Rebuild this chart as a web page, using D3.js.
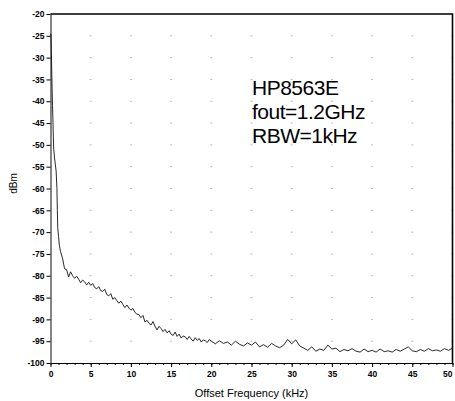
<!DOCTYPE html>
<html>
<head>
<meta charset="utf-8">
<script src="https://cdn.jsdelivr.net/npm/d3@7"></script>
<style>
	body { margin: 0; background: #fff; }
	svg { display: block; font-family: "Liberation Sans", Arial, sans-serif; }
</style>
</head>
<body>
<div id="chart"></div>
<script>
var WIDTH = 455, HEIGHT = 401;
var margin = {top: 14, right: 2.5, bottom: 38, left: 50.5};

// trace: offset frequency (kHz) and level (dBm)
var freq_start = [0.05, 0.1, 0.15, 0.2, 0.25, 0.3, 0.35, 0.4, 0.5, 0.7, 0.8, 0.85, 0.9, 1.0, 1.1, 1.25];
var level_start = [-24.5, -28, -33, -37, -41, -44, -48, -51, -53, -56, -60, -65, -69, -71, -73, -74.5];

// 1.5 .. 20 kHz, every 0.25 kHz
var freq_mid = [1.5, 1.75, 2, 2.25, 2.5, 2.75, 3, 3.25, 3.5, 3.75, 4, 4.25, 4.5, 4.75, 5, 5.25, 5.5, 5.75,
	6, 6.25, 6.5, 6.75, 7, 7.25, 7.5, 7.75, 8, 8.25, 8.5, 8.75, 9, 9.25, 9.5, 9.75, 10, 10.25, 10.5, 10.75,
	11, 11.25, 11.5, 11.75, 12, 12.25, 12.5, 12.75, 13, 13.25, 13.5, 13.75, 14, 14.25, 14.5, 14.75, 15,
	15.25, 15.5, 15.75, 16, 16.25, 16.5, 16.75, 17, 17.25, 17.5, 17.75, 18, 18.25, 18.5, 18.75, 19, 19.25,
	19.5, 19.75, 20];
var level_mid = [-76, -78.4, -78.6, -80.3, -79.1, -80, -80.6, -80.1, -80.8, -81.6,
	-81, -81.4, -82.1, -81.5, -82.2, -81.8, -82.7, -83, -82.5, -83.4,
	-83.6, -83.1, -84.3, -84.6, -84.1, -85.4, -85, -85.7, -86.3, -85.8,
	-86.6, -87.3, -86.7, -87.4, -87.9, -87.5, -88.4, -88.8,
	-88.9, -89.6, -89.1, -90.6, -90.2, -90.9, -91.3, -90.5, -91.6, -92.4,
	-91.6, -92.1, -92.8, -92.3, -93.1, -92.6, -93.4, -93.7, -92.9, -93.9,
	-93.4, -94.3, -93.8, -94, -94.6, -93.9, -94.5, -95, -94.2, -94.8,
	-94.4, -95.2, -94.7, -94.9, -95.3, -94.6, -95];

// 20.5 .. 50 kHz, every 0.5 kHz
var freq_end = [20.5, 21, 21.5, 22, 22.5, 23, 23.5, 24, 24.5, 25, 25.5, 26, 26.5, 27, 27.5, 28, 28.5, 29,
	29.5, 30, 30.5, 31, 31.5, 32, 32.5, 33, 33.5, 34, 34.5, 35, 35.5, 36, 36.5, 37, 37.5, 38, 38.5, 39,
	39.5, 40, 40.5, 41, 41.5, 42, 42.5, 43, 43.5, 44, 44.5, 45, 45.5, 46, 46.5, 47, 47.5, 48, 48.5, 49,
	49.5, 50];
var level_end = [-95.6, -94.9, -95.5, -95.2, -95.9, -95, -95.7, -96.1, -95.4, -95.9, -95.2, -96.3, -95.8,
	-96.4, -95.5, -96.1, -96.5, -95.9, -94.6, -95.6, -94.7, -96.1, -96.6, -97.1, -96.3, -97.3, -96.8,
	-97.1, -95.9, -96.8, -96.6, -97.4, -96.9, -97.2, -96.7, -97.3, -97.5, -96.8, -97.4, -97.1, -97.5,
	-96.8, -97.4, -97.2, -97.5, -96.9, -97.3, -96.8, -96.3, -97.2, -97.4, -96.9, -97.3, -96.7, -97.2,
	-97, -97.3, -96.7, -97.1, -96.6];

var x_ticks = [0, 5, 10, 15, 20, 25, 30, 35, 40, 45, 50];
var y_ticks = [-20, -25, -30, -35, -40, -45, -50, -55, -60, -65, -70, -75, -80, -85, -90, -95, -100];
var note_lines = ["HP8563E", "fout=1.2GHz", "RBW=1kHz"];

var freqs = freq_start.concat(freq_mid, freq_end);
var levels = level_start.concat(level_mid, level_end);
var trace = freqs.map(function(f, i) { return {f: f, l: levels[i]}; });

var svg = d3.select("#chart").append("svg")
	.attr("width", WIDTH)
	.attr("height", HEIGHT);

var x = d3.scaleLinear().domain([0, 50]).range([margin.left, WIDTH - margin.right]);
var y = d3.scaleLinear().domain([-100, -20]).range([HEIGHT - margin.bottom, margin.top]);

// sparse dotted grid (mostly lost in the scan)
svg.append("g")
	.selectAll("line")
	.data(y_ticks.slice(1, -1))
	.enter().append("line")
	.attr("x1", x(0)).attr("x2", x(50))
	.attr("y1", function(d) { return y(d); })
	.attr("y2", function(d) { return y(d); })
	.style("stroke", "#b8b8b8")
	.style("stroke-width", 1)
	.style("stroke-dasharray", "2," + (x(5) - x(0) - 2))
	.style("stroke-dashoffset", 1);

// x axis, minor ticks every 1 kHz
svg.append("g")
	.attr("transform", "translate(0," + y(-100) + ")")
	.call(d3.axisBottom(x).tickValues(d3.range(0, 51, 1)).tickSize(2).tickFormat(""))
	.call(function(g) { g.select(".domain").remove(); });

var xAxis = svg.append("g")
	.attr("transform", "translate(0," + y(-100) + ")")
	.call(d3.axisBottom(x).tickValues(x_ticks).tickSize(4).tickSizeOuter(0).tickPadding(4));

// last label sits on the window edge: pull it inside
xAxis.selectAll(".tick text")
	.filter(function(d) { return d === 50; })
	.attr("text-anchor", "end")
	.attr("dx", "-0.5");

var yAxis = svg.append("g")
	.attr("transform", "translate(" + x(0) + ",0)")
	.call(d3.axisLeft(y).tickValues(y_ticks).tickSize(4).tickSizeOuter(0).tickPadding(2)
		.tickFormat(function(d) { return d; }));

svg.selectAll(".tick text")
	.style("font-size", "8.5px")
	.style("font-weight", "bold")
	.style("font-family", "'Liberation Sans', Arial, sans-serif")
	.style("fill", "#000");
svg.selectAll(".domain, .tick line").style("stroke", "#000");
yAxis.select(".domain").style("stroke", "#444").style("stroke-width", 1.3);
xAxis.select(".domain").style("stroke-width", 1.2);

// top and right frame
svg.append("path")
	.attr("d", "M" + x(0) + "," + y(-20) + "H" + x(50) + "V" + y(-100))
	.style("fill", "none")
	.style("stroke", "#000")
	.style("stroke-width", 1.6);

// trace
var line = d3.line()
	.x(function(d) { return x(d.f); })
	.y(function(d) { return y(d.l); });

svg.append("path")
	.datum(trace)
	.attr("d", line)
	.style("fill", "none")
	.style("stroke", "#111")
	.style("stroke-width", 0.9);

// axis titles
svg.append("text")
	.attr("x", (x(0) + x(50)) / 2)
	.attr("y", 397)
	.attr("text-anchor", "middle")
	.style("font-size", "11px")
	.text("Offset Frequency (kHz)");

svg.append("text")
	.attr("transform", "translate(17," + ((y(-20) + y(-100)) / 2 - 5) + ") rotate(-90)")
	.attr("text-anchor", "middle")
	.style("font-size", "10px")
	.text("dBm");

// instrument note
svg.append("g")
	.selectAll("text")
	.data(note_lines)
	.enter().append("text")
	.attr("x", 252)
	.attr("y", function(d, i) { return 95 + i * 24; })
	.style("font-size", "21px")
	.style("letter-spacing", "-0.5px")
	.text(function(d) { return d; });
</script>
</body>
</html>
